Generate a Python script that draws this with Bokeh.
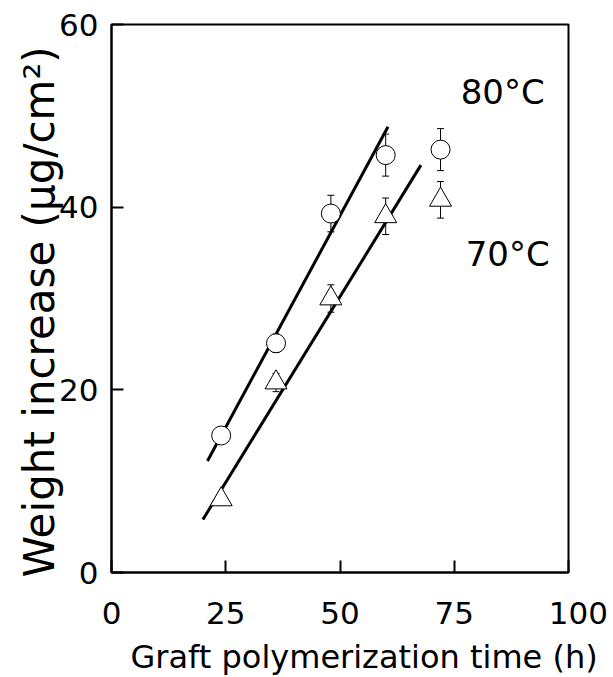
from bokeh.plotting import figure
from bokeh.models import ColumnDataSource, Whisker, TeeHead, FixedTicker, Label, Title
from bokeh.embed import file_html
from bokeh.resources import INLINE

# ---- data ----
time_h = [24, 36, 48, 60, 72]
w80 = [15.0, 25.1, 39.3, 45.7, 46.3]
err80 = [0.8, 1.0, 2.0, 2.3, 2.3]
w70 = [8.0, 20.8, 30.0, 39.0, 40.8]
err70 = [0.6, 1.0, 1.5, 2.0, 2.0]
fit80_x = [21.0, 60.5]
fit80_y = [12.2, 48.8]
fit70_x = [20.0, 67.7]
fit70_y = [5.8, 44.6]
x_ticks = [0, 25, 50, 75, 100]
x_tick_labels = {0: "0", 25: "25", 50: "50", 75: "75", 100: "\u2007100"}
y_ticks = [0, 20, 40, 60]
series_names = ["80°C", "70°C"]
x_title = "Graft polymerization time  (h)"
y_title = "Weight increase   (μg/cm²)"

FONT = "DejaVu Sans"

p = figure(width=613, height=677, x_range=(0, 100), y_range=(0, 60),
           output_backend="svg", toolbar_location=None,
           min_border_left=111, min_border_right=45,
           min_border_top=24, min_border_bottom=105)
p.xgrid.visible = False
p.ygrid.visible = False
p.outline_line_color = "black"
p.outline_line_width = 2
p.background_fill_color = "white"
p.border_fill_color = "white"

for ax, ticks in ((p.xaxis, x_ticks), (p.yaxis, y_ticks)):
    ax.ticker = FixedTicker(ticks=ticks)
    ax.major_tick_in = 12
    ax.major_tick_out = 0
    ax.minor_tick_line_color = None
    ax.axis_line_width = 2
    ax.major_tick_line_width = 2
    ax.major_tick_line_color = "black"
    ax.axis_line_color = "black"
    ax.major_label_text_font = FONT
    ax.major_label_text_font_size = "31px"
    ax.major_label_text_color = "black"
p.xaxis.major_label_overrides = x_tick_labels
p.xaxis.major_label_standoff = 22
p.yaxis.major_label_standoff = 13

p.yaxis.axis_label = y_title
p.yaxis.axis_label_text_font = FONT
p.yaxis.axis_label_text_font_size = "42px"
p.yaxis.axis_label_text_font_style = "normal"
p.yaxis.axis_label_text_color = "black"
p.yaxis.axis_label_standoff = -8

# fit lines
p.line(fit80_x, fit80_y, line_color="black", line_width=3)
p.line(fit70_x, fit70_y, line_color="black", line_width=3)

# error bars
src80 = ColumnDataSource(dict(x=time_h, y=w80,
                              upper=[a + b for a, b in zip(w80, err80)],
                              lower=[a - b for a, b in zip(w80, err80)]))
src70 = ColumnDataSource(dict(x=time_h, y=w70,
                              upper=[a + b for a, b in zip(w70, err70)],
                              lower=[a - b for a, b in zip(w70, err70)]))
for src in (src80, src70):
    p.add_layout(Whisker(base="x", upper="upper", lower="lower", source=src,
                         line_color="black", line_width=1,
                         upper_head=TeeHead(size=7, line_width=1, line_color="black"),
                         lower_head=TeeHead(size=7, line_width=1, line_color="black")))

p.scatter("x", "y", source=src80, marker="circle", size=19,
          fill_color="white", line_color="black", line_width=1)
p.scatter("x", "y", source=src70, marker="triangle", size=22,
          fill_color="white", line_color="black", line_width=1)

# series labels
p.add_layout(Label(x=76.4, y=52.6, text=series_names[0], text_font=FONT,
                   text_font_size="34px", text_baseline="middle", text_color="black"))
p.add_layout(Label(x=77.5, y=34.9, text=series_names[1], text_font=FONT,
                   text_font_size="34px", text_baseline="middle", text_color="black"))

# x-axis title
p.add_layout(Title(text=x_title, align="left", offset=19, standoff=4,
                   text_font=FONT, text_font_size="32px", text_font_style="normal",
                   text_color="black"), "below")

open("out.html", "w").write(file_html(p, INLINE))
